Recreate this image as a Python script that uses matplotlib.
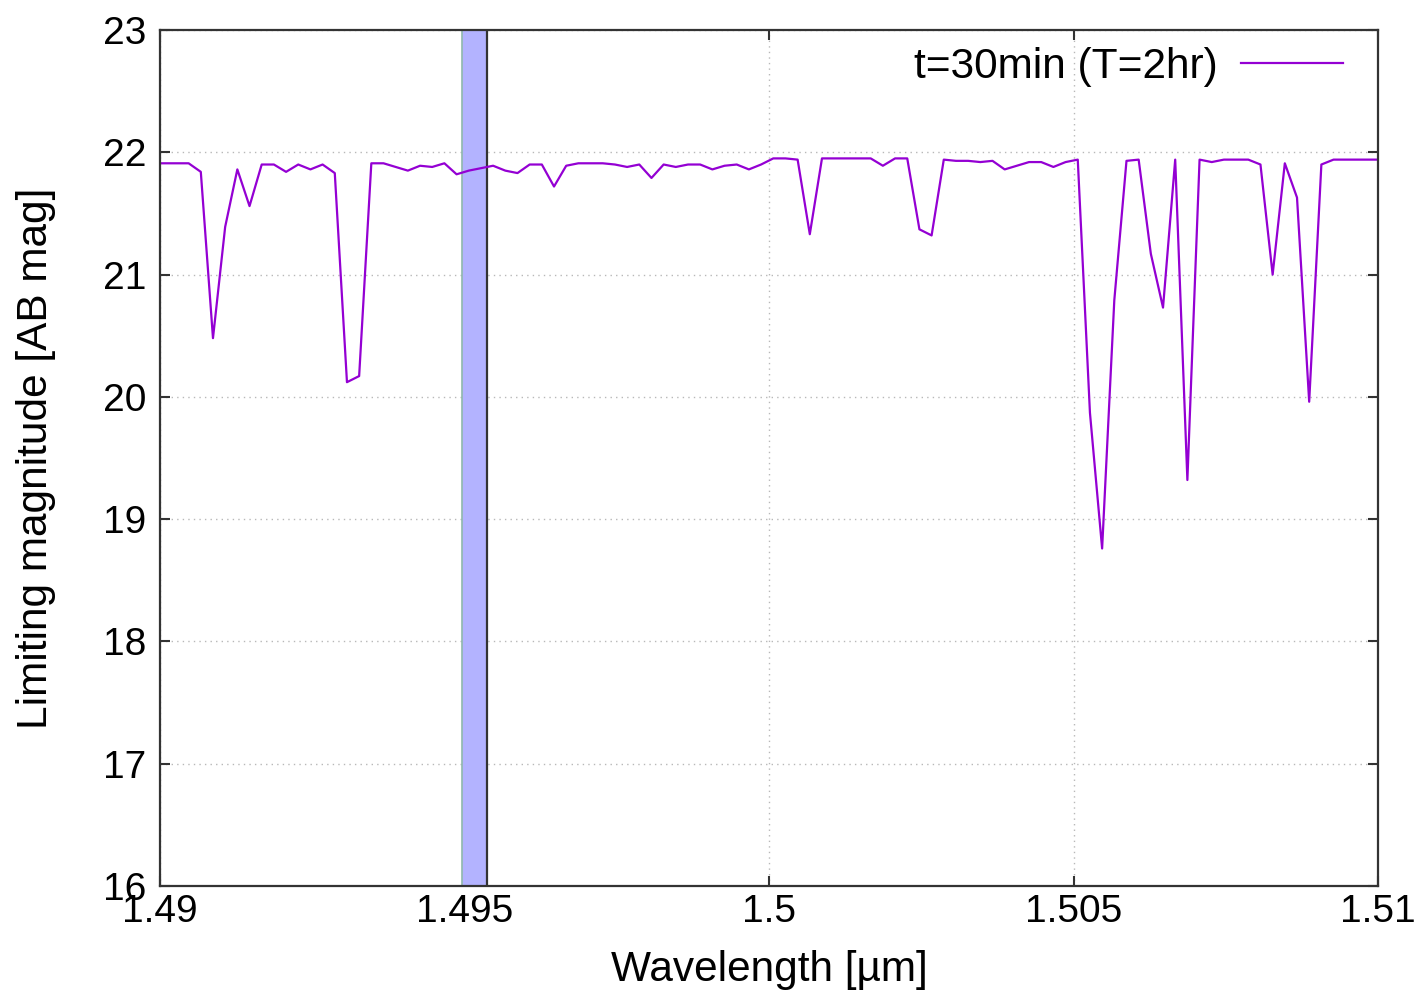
import matplotlib
matplotlib.use('Agg')
import matplotlib.pyplot as plt

plt.rcParams['font.family'] = ['Liberation Sans', 'DejaVu Sans']

# wavelength grid [um] and limiting magnitude
wavelength = [
    1.48987, 1.49007, 1.49027, 1.49047, 1.49067, 1.49087, 1.49107, 1.49127, 1.49147, 1.49167,
    1.49187, 1.49207, 1.49227, 1.49247, 1.49267, 1.49287, 1.49307, 1.49327, 1.49347, 1.49367,
    1.49387, 1.49407, 1.49427, 1.49447, 1.49467, 1.49487, 1.49507, 1.49527, 1.49547, 1.49567,
    1.49587, 1.49607, 1.49627, 1.49647, 1.49667, 1.49687, 1.49707, 1.49727, 1.49747, 1.49767,
    1.49787, 1.49807, 1.49827, 1.49847, 1.49867, 1.49887, 1.49907, 1.49927, 1.49947, 1.49967,
    1.49987, 1.50007, 1.50027, 1.50047, 1.50067, 1.50087, 1.50107, 1.50127, 1.50147, 1.50167,
    1.50187, 1.50207, 1.50227, 1.50247, 1.50267, 1.50287, 1.50307, 1.50327, 1.50347, 1.50367,
    1.50387, 1.50407, 1.50427, 1.50447, 1.50467, 1.50487, 1.50507, 1.50527, 1.50547, 1.50567,
    1.50587, 1.50607, 1.50627, 1.50647, 1.50667, 1.50687, 1.50707, 1.50727, 1.50747, 1.50767,
    1.50787, 1.50807, 1.50827, 1.50847, 1.50867, 1.50887, 1.50907, 1.50927, 1.50947, 1.50967,
    1.50987, 1.51007,
]
lim_mag = [
    21.91, 21.91, 21.91, 21.91, 21.84, 20.48, 21.39, 21.86, 21.56, 21.90,
    21.90, 21.84, 21.90, 21.86, 21.90, 21.83, 20.12, 20.17, 21.91, 21.91,
    21.88, 21.85, 21.89, 21.88, 21.91, 21.82, 21.85, 21.87, 21.89, 21.85,
    21.83, 21.90, 21.90, 21.72, 21.89, 21.91, 21.91, 21.91, 21.90, 21.88,
    21.90, 21.79, 21.90, 21.88, 21.90, 21.90, 21.86, 21.89, 21.90, 21.86,
    21.90, 21.95, 21.95, 21.94, 21.33, 21.95, 21.95, 21.95, 21.95, 21.95,
    21.89, 21.95, 21.95, 21.37, 21.32, 21.94, 21.93, 21.93, 21.92, 21.93,
    21.86, 21.89, 21.92, 21.92, 21.88, 21.92, 21.94, 19.87, 18.76, 20.79,
    21.93, 21.94, 21.17, 20.73, 21.94, 19.32, 21.94, 21.92, 21.94, 21.94,
    21.94, 21.90, 21.00, 21.91, 21.63, 19.96, 21.90, 21.94, 21.94, 21.94,
    21.94, 21.94,
]

band_lo = 1.49496
band_hi = 1.49537

xticks = [1.49, 1.495, 1.5, 1.505, 1.51]
xticklabels = ['1.49', '1.495', '1.5', '1.505', '1.51']
yticks = [16, 17, 18, 19, 20, 21, 22, 23]

fig = plt.figure(figsize=(14.27, 9.93), dpi=100)
ax = fig.add_axes([160 / 1427, 1 - 886 / 993, 1218 / 1427, 856 / 993])

# filter band
ax.axvspan(band_lo, band_hi, facecolor='#b3b3ff', edgecolor='none', zorder=1)
ax.axvline(band_lo, color='#8fb8ad', lw=1.2, zorder=1)
ax.axvline(band_hi, color='#333333', lw=1.6, zorder=1)

ax.plot(wavelength, lim_mag, color='#9400d3', lw=1.6, label='t=30min (T=2hr)', zorder=3)

ax.set_xlim(1.49, 1.51)
ax.set_ylim(16, 23)
ax.set_xticks(xticks)
ax.set_xticklabels(xticklabels)
ax.set_yticks(yticks)

ax.grid(True, color='#b8b8b8', linestyle=(0, (1, 3)), lw=1.0, zorder=0)
ax.set_axisbelow(True)

ax.tick_params(direction='in', length=7, width=1.5, top=True, right=True,
               labelsize=28, color='#333333')
ax.tick_params(axis='x', pad=6)
ax.tick_params(axis='y', pad=10)
for sp in ax.spines.values():
    sp.set_linewidth(1.6)
    sp.set_color('#333333')
    sp.set_zorder(4)

ax.set_xlabel('Wavelength [µm]', fontsize=30.5, labelpad=14)
ax.set_ylabel('Limiting magnitude [AB mag]', fontsize=30.5)
ax.yaxis.set_label_coords(-0.085, 0.5)

leg = ax.legend(loc='upper right', frameon=False, markerfirst=False, fontsize=30.5,
                handlelength=2.4, handletextpad=0.55, borderaxespad=0.0,
                bbox_to_anchor=(0.985, 1.0))

fig.savefig('out.png', dpi=100)
